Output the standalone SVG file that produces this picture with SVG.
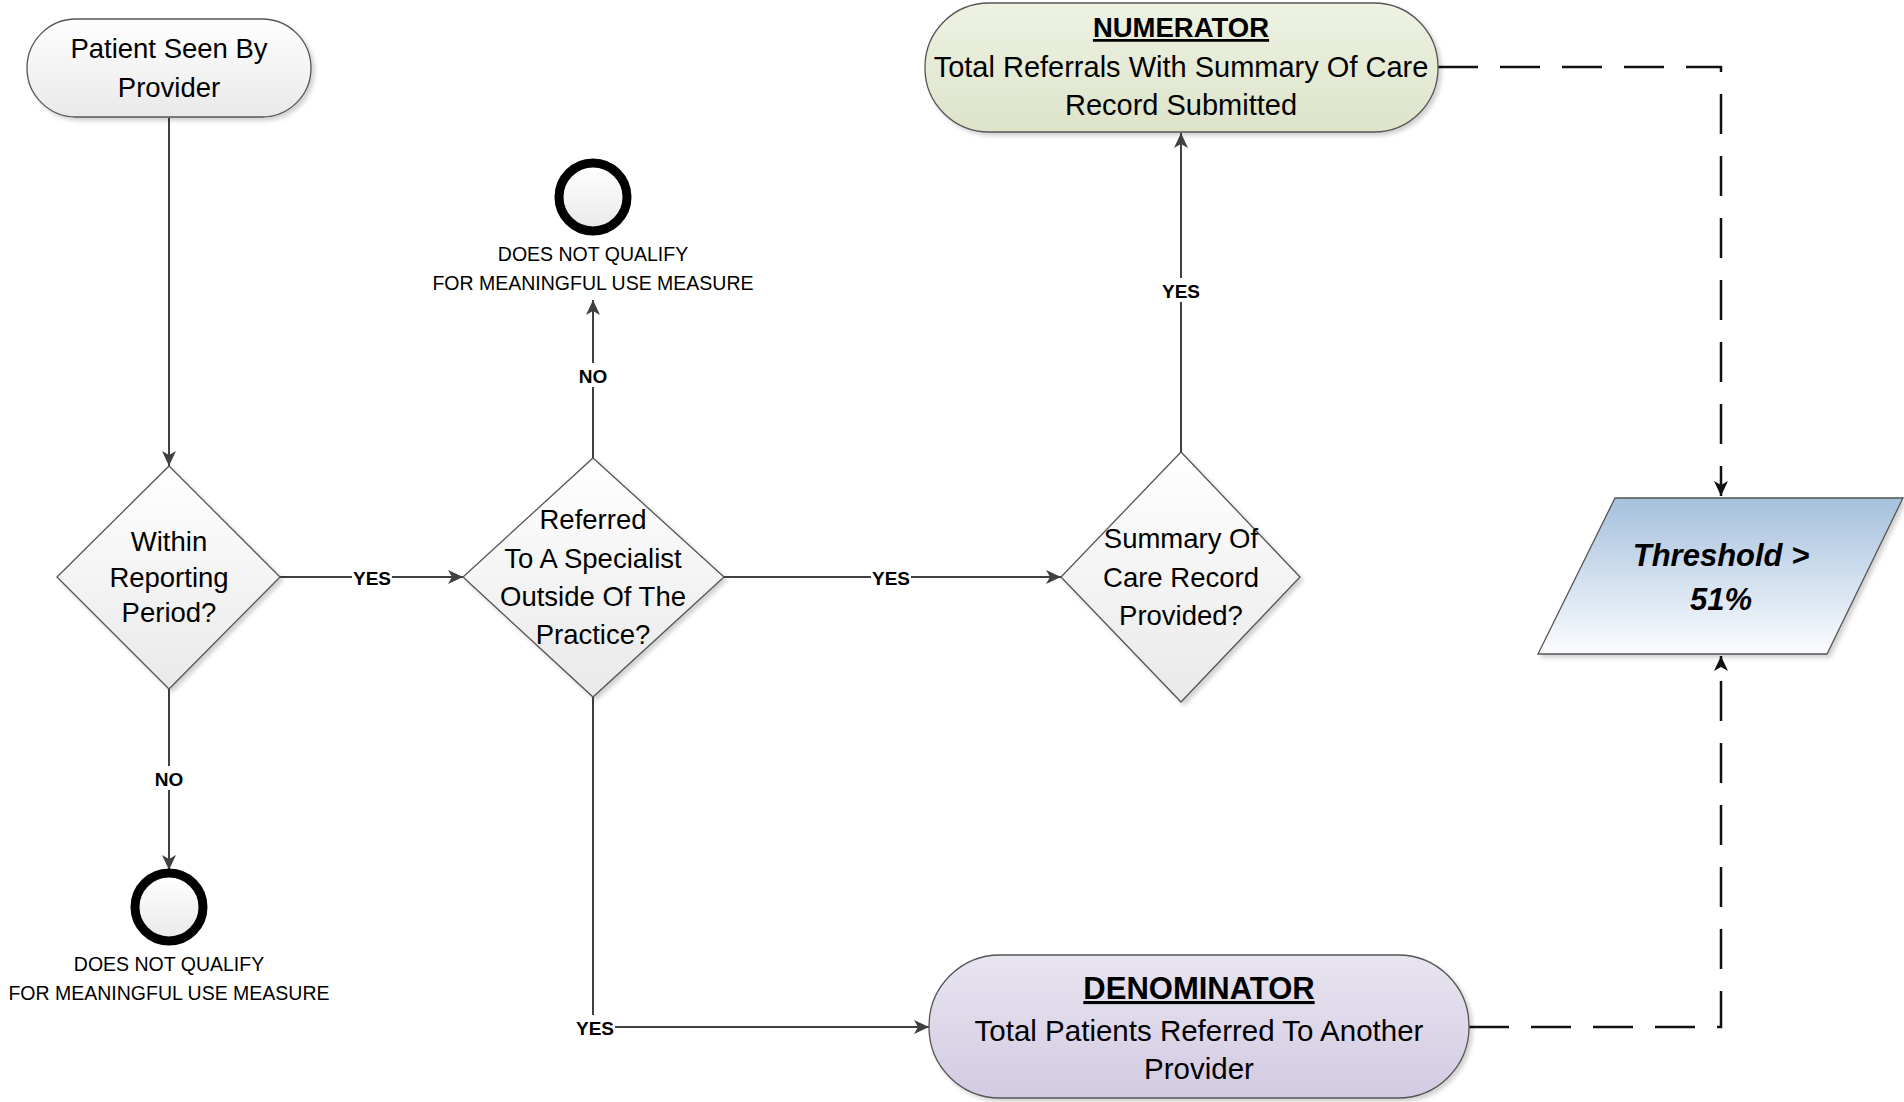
<svg xmlns="http://www.w3.org/2000/svg" width="1904" height="1102" viewBox="0 0 1904 1102">
<defs>
<style>
.t{font-family:"Liberation Sans",Arial,sans-serif;font-size:27.5px;fill:#000;text-anchor:middle}
.b{font-weight:bold}
.dq{font-family:"Liberation Sans",Arial,sans-serif;font-size:19.5px;fill:#000;text-anchor:middle}
.lb{font-family:"Liberation Sans",Arial,sans-serif;font-size:19px;font-weight:bold;fill:#000;text-anchor:middle;dominant-baseline:central}
.shape{stroke:#555;stroke-width:1.3}
.c{fill:none;stroke:#404040;stroke-width:2}
.d{fill:none;stroke:#111;stroke-width:2.5;stroke-dasharray:40 22}
.end{stroke:#000;stroke-width:9;fill:url(#gw)}
</style>
<linearGradient id="gw" x1="0" y1="0" x2="0" y2="1"><stop offset="0" stop-color="#ffffff"/><stop offset="1" stop-color="#e9e9e9"/></linearGradient>
<linearGradient id="gg" x1="0" y1="0" x2="0" y2="1"><stop offset="0" stop-color="#eef2e3"/><stop offset="1" stop-color="#dde4c9"/></linearGradient>
<linearGradient id="gp" x1="0" y1="0" x2="0" y2="1"><stop offset="0" stop-color="#e8e4f0"/><stop offset="1" stop-color="#d3cbe2"/></linearGradient>
<linearGradient id="gb" x1="0" y1="0" x2="0" y2="1"><stop offset="0" stop-color="#a5c1dd"/><stop offset="1" stop-color="#fbfcfe"/></linearGradient>
<filter id="sh" x="-10%" y="-10%" width="130%" height="130%"><feDropShadow dx="3" dy="3" stdDeviation="2" flood-color="#000" flood-opacity="0.18"/></filter>
<marker id="ar" markerUnits="userSpaceOnUse" markerWidth="16" markerHeight="14" refX="15" refY="7" orient="auto"><path d="M0,0 L15,7 L0,14 L4,7 z" fill="#404040"/></marker>
<marker id="ad" markerUnits="userSpaceOnUse" markerWidth="16" markerHeight="14" refX="15" refY="7" orient="auto"><path d="M0,0 L15,7 L0,14 L4,7 z" fill="#111"/></marker>
</defs>
<rect width="1904" height="1102" fill="#fff"/>

<g id="connectors">
<path class="c" d="M169,118 V466" marker-end="url(#ar)"/>
<path class="c" d="M280,577 H463" marker-end="url(#ar)"/>
<path class="c" d="M169,689 V870" marker-end="url(#ar)"/>
<path class="c" d="M593,458 V300" marker-end="url(#ar)"/>
<path class="c" d="M724,577 H1061" marker-end="url(#ar)"/>
<path class="c" d="M1181,452 V133" marker-end="url(#ar)"/>
<path class="c" d="M593,697 V1027 H929" marker-end="url(#ar)"/>
<path class="d" d="M1438,67 H1721 V496" marker-end="url(#ad)"/>
<path class="d" d="M1469,1027 H1721 V656" marker-end="url(#ad)"/>
<rect x="352" y="567" width="40" height="20" fill="#fff"/><text class="lb" x="372" y="578">YES</text>
<rect x="148" y="766" width="42" height="24" fill="#fff"/><text class="lb" x="169" y="779">NO</text>
<rect x="572" y="363" width="42" height="24" fill="#fff"/><text class="lb" x="593" y="376">NO</text>
<rect x="871" y="567" width="40" height="20" fill="#fff"/><text class="lb" x="891" y="578">YES</text>
<rect x="1161" y="278" width="40" height="24" fill="#fff"/><text class="lb" x="1181" y="291">YES</text>
<rect x="575" y="1015" width="40" height="24" fill="#fff"/><text class="lb" x="595" y="1028">YES</text>
</g>

<g id="start">
<rect class="shape" x="27" y="19" width="284" height="98" rx="49" fill="url(#gw)" filter="url(#sh)"/>
<text class="t" x="169" y="58">Patient Seen By</text>
<text class="t" x="169" y="97">Provider</text>
</g>

<g id="within">
<polygon class="shape" points="169,466 280,577 169,689 57,577" fill="url(#gw)" filter="url(#sh)"/>
<text class="t" x="169" y="551">Within</text>
<text class="t" x="169" y="587">Reporting</text>
<text class="t" x="169" y="622">Period?</text>
</g>

<g id="end1">
<circle class="end" cx="169" cy="907" r="34"/>
<text class="dq" x="169" y="971">DOES NOT QUALIFY</text>
<text class="dq" x="169" y="1000">FOR MEANINGFUL USE MEASURE</text>
</g>

<g id="referred">
<polygon class="shape" points="593,458 724,577 593,697 463,577" fill="url(#gw)" filter="url(#sh)"/>
<text class="t" x="593" y="529">Referred</text>
<text class="t" x="593" y="568">To A Specialist</text>
<text class="t" x="593" y="606">Outside Of The</text>
<text class="t" x="593" y="644">Practice?</text>
</g>

<g id="end2">
<circle class="end" cx="593" cy="197" r="34"/>
<text class="dq" x="593" y="261">DOES NOT QUALIFY</text>
<text class="dq" x="593" y="290">FOR MEANINGFUL USE MEASURE</text>
</g>

<g id="summary">
<polygon class="shape" points="1181,452 1300,577 1181,702 1061,577" fill="url(#gw)" filter="url(#sh)"/>
<text class="t" x="1181" y="548">Summary Of</text>
<text class="t" x="1181" y="587">Care Record</text>
<text class="t" x="1181" y="625">Provided?</text>
</g>

<g id="numerator">
<rect class="shape" x="925" y="3" width="513" height="129" rx="64" fill="url(#gg)" filter="url(#sh)"/>
<text class="t b" x="1181" y="37" text-decoration="underline">NUMERATOR</text>
<text class="t" x="1181" y="77" style="font-size:29px">Total Referrals With Summary Of Care</text>
<text class="t" x="1181" y="115" style="font-size:29px">Record Submitted</text>
</g>

<g id="denominator">
<rect class="shape" x="929" y="955" width="540" height="143" rx="71" fill="url(#gp)" filter="url(#sh)"/>
<text class="t b" x="1199" y="999" style="font-size:31px" text-decoration="underline">DENOMINATOR</text>
<text class="t" x="1199" y="1041" style="font-size:29.5px">Total Patients Referred To Another</text>
<text class="t" x="1199" y="1079" style="font-size:29.5px">Provider</text>
</g>

<g id="threshold">
<polygon class="shape" points="1615,498 1903,498 1827,654 1538,654" fill="url(#gb)" filter="url(#sh)"/>
<text class="t b" x="1721" y="566" style="font-size:31px;font-style:italic">Threshold &gt;</text>
<text class="t b" x="1721" y="610" style="font-size:31px;font-style:italic">51%</text>
</g>
</svg>
